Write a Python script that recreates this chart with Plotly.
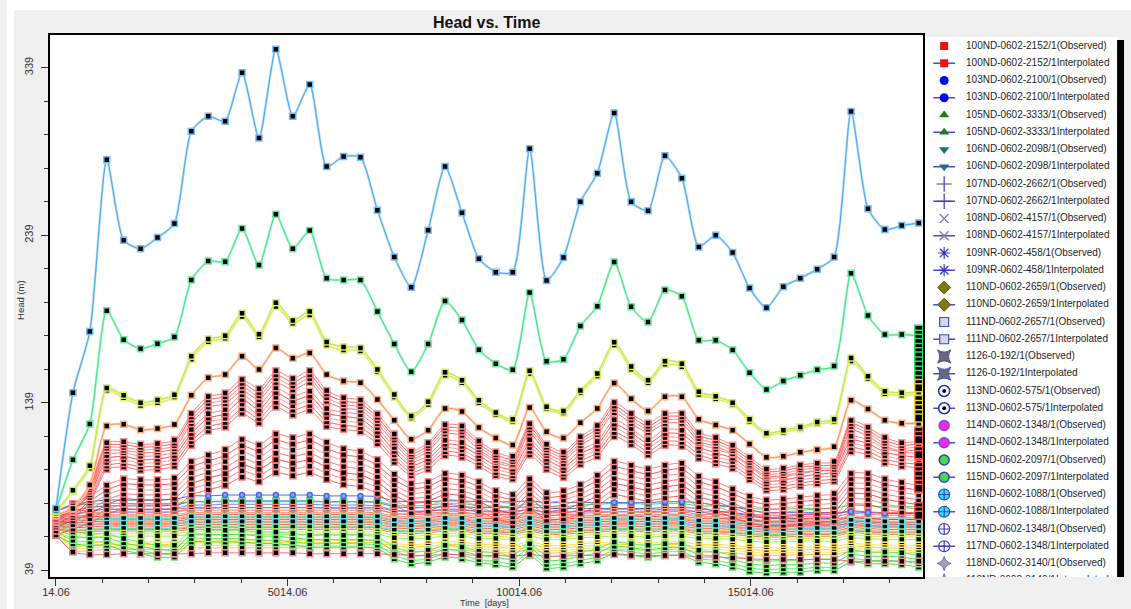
import plotly.graph_objects as go

W, H = 1131, 609

# ---------------------------------------------------------------- data
times = [14.06, 379.31, 744.56, 1109.81, 1475.06, 1840.31, 2205.56, 2570.81, 2936.06, 3301.31,
         3666.56, 4031.81, 4397.06, 4762.31, 5127.56, 5492.81, 5858.06, 6223.31, 6588.56, 6953.81,
         7319.06, 7684.31, 8049.56, 8414.81, 8780.06, 9145.31, 9510.56, 9875.81, 10241.06, 10606.31,
         10971.56, 11336.81, 11702.06, 12067.31, 12432.56, 12797.81, 13163.06, 13528.31, 13893.56, 14258.81,
         14624.06, 14989.31, 15354.56, 15719.81, 16085.06, 16450.31, 16815.56, 17180.81, 17546.06, 17911.31,
         18276.56, 18641.81]

x_tick_vals = [14.06, 5014.06, 10014.06, 15014.06]
x_tick_text = ["14.06", "5014.06", "10014.06", "15014.06"]
y_tick_vals = [39, 139, 239, 339]
y_tick_text = ["39", "139", "239", "339"]

head_blue = [76, 145, 181.6, 284, 236, 231, 237.6, 246, 301, 310, 307, 336, 297, 350, 310, 329,
             280, 286, 285.5, 254, 226, 208, 242, 280, 252.5, 225, 217, 217, 290.6, 212, 225.8, 259,
             276, 312, 259, 253.7, 286.5, 273, 232, 239, 228.7, 207.5, 195.7, 208.3, 213.3, 218.8,
             226, 312.8, 254.8, 242.4, 244.8, 246.3]
head_green = [75, 105, 126.4, 194, 176.7, 171.3, 174.3, 178.3, 212.3, 223.6, 223.2, 243, 221.2, 251.5,
              231, 241.8, 213.3, 212.3, 212.3, 193.5, 174.1, 157.5, 174.1, 199.8, 188.4, 170.7, 162.3,
              158.7, 204.8, 163.8, 165, 184.8, 196.7, 223, 196.3, 187.2, 206.4, 202.6, 176.3, 176.3,
              170.6, 157, 147, 152, 155.5, 158.7, 161, 216.3, 191.1, 179.8, 179.8, 179]
head_yg = [74, 86.9, 101.5, 147.8, 143.5, 139.1, 140.7, 143.9, 166.8, 177.1, 179, 192.5, 180, 198.8,
           188.1, 193.5, 175.3, 172.4, 171.7, 158.9, 144, 131.2, 139.7, 157.3, 152.5, 140.5, 133.2,
           129.2, 158.2, 136.7, 134.1, 146.4, 156.5, 175.1, 160.7, 152.5, 163.8, 162.4, 145.6, 143,
           139.1, 129.2, 120.9, 122.7, 124.6, 127.6, 129.2, 165.8, 154.9, 146, 145, 145.4]
head_yg2 = [73, 86, 100, 146.5, 142, 137.5, 139, 142.5, 165, 175.5, 177.5, 190.5, 178.5, 196.5, 186.5,
            191.5, 173.5, 170.5, 170, 157.5, 142.5, 130, 138, 155.5, 151, 139, 132, 128, 156.5, 135.5,
            133, 145, 155, 173.5, 159, 151, 162, 160.5, 144, 141.5, 138, 128, 120, 121.5, 123.5, 126.5,
            128, 164, 153.5, 144.5, 143.5, 144]
head_orange = [72, 76, 90, 125.2, 126.2, 122.9, 123.7, 126.1, 143.5, 154, 155.9, 166.8, 158.9, 171.8,
               165.6, 168.8, 155.9, 152, 151, 141, 128.6, 117.3, 122.7, 135.7, 133.8, 124.3, 118, 113.8,
               136.2, 121.7, 118, 127.2, 135.7, 150.8, 141.5, 134.1, 142.7, 142.7, 129.2, 125.8, 122.7,
               114.4, 106.5, 107.1, 109.5, 111, 112.8, 140.5, 135.3, 128.6, 126.8, 126.8]

# red well bundles: bundle centre line and relative spread of its members
red_upper = [70, 76, 88, 113, 113.5, 112, 112.5, 114.5, 130, 140, 142, 150, 144.5, 155, 150.5, 155,
             143.5, 139.3, 138, 129.8, 118, 108, 113, 123.5, 122.8, 114, 107.5, 105, 124, 112, 107.5,
             116.5, 123, 136.5, 130, 124.5, 130, 130, 119, 116, 111.5, 104.5, 97.6, 98, 100, 101, 102,
             126, 122, 116, 113, 114]
red_mid = [68, 74, 83, 104, 105.5, 103.5, 104, 106, 119, 128, 130.5, 139, 133, 143, 138, 141, 131, 129,
           127.5, 120, 108.5, 100, 104, 112.7, 111.5, 106, 100, 98, 113, 104, 99, 107, 112, 124.5, 119.5,
           113, 119, 118.5, 111, 107.5, 104.5, 97.5, 91, 91.5, 93.5, 95, 96.5, 115, 113, 108, 106, 105]
red_low = [68, 72, 76, 82, 85.5, 85, 85, 86, 95, 98.5, 101.5, 107, 104, 110, 108, 110, 105.5, 102,
           100.5, 96, 88, 83, 84, 88.5, 87.5, 84, 79, 77, 85.5, 78, 79, 82.5, 87.5, 95, 93, 91, 93, 94,
           87, 84, 80, 76, 74, 74.5, 75.5, 76.5, 77.5, 88.5, 88.5, 85.5, 83.5, 82]
red_upper_spread = [0.975, 0.99, 1.005, 1.02]
red_mid_spread = [0.955, 0.975, 0.995, 1.015, 1.035]
red_low_spread = [0.885, 0.92, 0.955, 0.99, 1.025, 1.06, 1.095]

# lower band of wells
band_blue_star = [74, 78, 80, 81, 81, 81, 81, 81.5, 83.5, 83.5, 84, 84, 84, 84, 84, 84, 83.5, 83.5,
                  83.5, 83, 80.5, 80, 80, 80.5, 80.5, 80, 80, 80, 80.5, 79.5, 79.5, 79.5, 79.5, 79.5,
                  79.5, 79.5, 80, 80, 79.5, 78, 77, 75, 73.5, 73.5, 73.5, 73.5, 73.5, 74, 73.5, 73, 73, 73]
band_blue_offsets = [-3.5, -5.5, -7.5]
band_shift = [0, -1, -0.5, 0, 0, 0, 0, 0, 1, 1, 1, 1, 1, 1, 1, 1, 1, 1, 1, 1, -1, -1.5, -1, 0, 0,
              -1.5, -1.5, -2, 0, -2, -2, -1, -0.5, 0, 0, -0.5, 0, 0, -1.5, -1.5, -2, -3, -3.5, -3.5,
              -3, -3, -3, -1, -1.5, -2, -2, -2]
band_levels = [79, 75.5, 74, 72.5, 71.5, 70.5, 69.5, 68.5, 67.5, 66.5, 65.5, 64.5, 63.5, 62.5,
               70, 67, 64, 61, 59.5, 56, 54.5, 53, 51.5]
band_starts = [75, 72, 71, 70, 69, 69, 68, 68, 67, 66, 66, 65, 64, 64,
               70, 68, 66, 63, 62, 62, 61, 60, 60]
band_colors = ["#22dd33", "#ff4444", "#ff6644", "#ff8855", "#ff3333", "#ffaa44", "#ff5566",
               "#ee3333", "#ff9933", "#ff7777", "#ff4422", "#ffbb55", "#ee5555", "#ff6633",
               "#33ddcc", "#22ccee", "#33ee99", "#ccee33", "#99ee33", "#ffdd33", "#ffcc11",
               "#ffe055", "#ffbb22"]
green_low = [62, 57, 56, 56, 53, 51, 49, 49, 58, 58, 58, 58, 57, 57, 56, 55, 55, 55, 55, 54, 48, 45,
             46, 49, 48, 45.5, 44.5, 43, 50, 42.5, 43, 45, 47, 51, 50, 49, 50, 50, 46, 45, 43, 40.5,
             39.5, 40, 40, 41, 41, 46, 45, 45, 44.5, 43]
green_low_offsets = [-2, 0, 2.5, 5]
bottom_red = [60, 50, 48.5, 48.5, 49, 49, 49, 49, 49, 49.5, 49.5, 49.5, 49.5, 49.5, 49.5, 49, 49, 49,
              49, 49, 48.5, 48, 48, 48.5, 48.5, 48, 48, 47.5, 48.5, 47.5, 47.5, 48, 48, 48.5, 48, 48,
              48, 48, 47, 47, 46.5, 46, 45.5, 45.5, 45.5, 45.5, 45.5, 44.5, 44.5, 44.5, 44.5, 44.5]

# observations stacked at the last survey date
final_stack_green = [183, 180, 177.5, 175, 172, 169.5, 167, 164, 161.5, 158.5, 156, 153]
final_stack_yellow = [150.5, 148, 141, 138, 135.5, 132.5, 130]
final_stack_red = [122, 119.5, 117, 110.5, 108, 101, 98.5, 96, 93, 90.5, 88, 77, 74.5, 72]

legend_wells = ["100ND-0602-2152/1", "103ND-0602-2100/1", "105ND-0602-3333/1", "106ND-0602-2098/1",
                "107ND-0602-2662/1", "108ND-0602-4157/1", "109NR-0602-458/1", "110ND-0602-2659/1",
                "111ND-0602-2657/1", "1126-0-192/1", "113ND-0602-575/1", "114ND-0602-1348/1",
                "115ND-0602-2097/1", "116ND-0602-1088/1", "117ND-0602-1348/1", "118ND-0602-3140/1"]

# ---------------------------------------------------------------- helpers
FONT = "Liberation Sans, Arial, sans-serif"


def tint(hex_color, f):
    h = hex_color.lstrip("#")
    r, g, b = (int(h[i:i + 2], 16) for i in (0, 2, 4))
    r, g, b = (int(c + (255 - c) * f) for c in (r, g, b))
    return f"#{r:02x}{g:02x}{b:02x}"


fig = go.Figure()
SMOOTH = 0.6


def add_well(values, color, halo=False, symbol="square", fill="black", size=6, border=None, width=0.9):
    if halo:
        fig.add_trace(go.Scatter(
            x=times, y=values, mode="lines", hoverinfo="skip",
            line=dict(color=tint(color, 0.6), width=2.4, shape="spline", smoothing=SMOOTH)))
    fig.add_trace(go.Scatter(
        x=times, y=values, mode="lines+markers", hoverinfo="skip",
        line=dict(color=color, width=width, shape="spline", smoothing=SMOOTH),
        marker=dict(symbol=symbol, size=size, color=fill,
                    line=dict(color=border or tint(color, 0.3), width=1.5))))


# ---------------------------------------------------------------- lower band
for off, col in zip(band_blue_offsets, ["#3355dd", "#5577ee", "#8899ff"]):
    add_well([v + off for v in band_blue_star], col)
for lvl, start, col in zip(band_levels, band_starts, band_colors):
    add_well([start] + [lvl + s for s in band_shift[1:]], col)
for off, col in zip(green_low_offsets, ["#22dd22", "#44ee44", "#33e633", "#55ee55"]):
    add_well([v + off for v in green_low], col)
add_well(bottom_red, "#e86070")
add_well(band_blue_star, "#3355ee", symbol="circle", fill="#8fa6ff", size=5, border="#4466ee")

# ---------------------------------------------------------------- red bundles
for f, col in zip(red_low_spread, ["#ff3a3a", "#ff6666", "#ee2222", "#ff5050", "#ff7a7a", "#ff3030", "#ff5a5a"]):
    add_well([round(v * f, 2) for v in red_low], col, width=0.8)
for f, col in zip(red_mid_spread, ["#ff5050", "#ff3a3a", "#ff8080", "#ff2222", "#ff6666"]):
    add_well([round(v * f, 2) for v in red_mid], col, width=0.8)
for f, col in zip(red_upper_spread, ["#ff4d4d", "#ff7070", "#ff3030", "#ff6060"]):
    add_well([round(v * f, 2) for v in red_upper], col, width=0.8)

# ---------------------------------------------------------------- upper wells
add_well(head_orange, "#ff8a45", halo=True)
add_well(head_yg2, "#dde43a", halo=True)
add_well(head_yg, "#b6e62a", halo=True)
add_well(head_green, "#2fe27a", halo=True)
add_well(head_blue, "#3aa2ee", halo=True)

# ---------------------------------------------------------------- final-date observations
for vals, col in [(final_stack_green, "#33dd66"), (final_stack_yellow, "#e8d030"),
                  (final_stack_red, "#ff5a4a")]:
    fig.add_trace(go.Scatter(
        x=[times[-1]] * len(vals), y=vals, mode="markers", hoverinfo="skip",
        marker=dict(symbol="square", size=8, color="black", line=dict(color=col, width=1.5))))

# ---------------------------------------------------------------- legend panel (own axes)
legend_symbols = [
    dict(symbol="square", size=8, color="#ee1111", line=dict(color="#ee1111", width=0)),
    dict(symbol="circle", size=9, color="#0a0aee", line=dict(color="#0a0aee", width=0)),
    dict(symbol="triangle-up", size=9, color="#1e7a1e", line=dict(color="#1e7a1e", width=0)),
    dict(symbol="triangle-down", size=9, color="#1d6f78", line=dict(color="#1d6f78", width=0)),
    dict(symbol="cross-thin", size=11, color="#3a3ab0", line=dict(color="#3a3ab0", width=1.2)),
    dict(symbol="x-thin", size=9, color="#7a7ab8", line=dict(color="#7a7ab8", width=1.2)),
    dict(symbol="asterisk", size=10, color="#3a3ac0", line=dict(color="#3a3ac0", width=1.2)),
    dict(symbol="diamond", size=10, color="#7d7a12", line=dict(color="#5c5a10", width=1)),
    dict(symbol="square", size=9, color="#d6d6ea", line=dict(color="#4848c0", width=1.2)),
    dict(symbol="star-square", size=12, color="#6a6a72", line=dict(color="#4a4ac0", width=1)),
    dict(symbol="circle", size=11, color="white", line=dict(color="#2a2ab0", width=1.5)),
    dict(symbol="circle", size=10, color="#ff22ee", line=dict(color="#5a5ad0", width=1.5)),
    dict(symbol="circle", size=10, color="#44dd44", line=dict(color="#3a3ac0", width=1.5)),
    dict(symbol="circle-cross", size=11, color="#22eeff", line=dict(color="#3a3ac0", width=1.2)),
    dict(symbol="circle-cross-open", size=11, color="#3a3ac0", line=dict(color="#3a3ac0", width=1.2)),
    dict(symbol="star-diamond", size=10, color="#a8a0a8", line=dict(color="#6a6ac0", width=1)),
]

ROW0, ROW_STEP, SYM_X = 46, 17.25, 943
labels, rows = [], []
for i, (well, sym) in enumerate(zip(legend_wells, legend_symbols)):
    y_obs = ROW0 + ROW_STEP * (2 * i)
    y_int = ROW0 + ROW_STEP * (2 * i + 1)
    labels += [f"{well}(Observed)", f"{well}Interpolated"]
    rows += [y_obs, y_int]
    fig.add_trace(go.Scatter(x=[932, 954], y=[y_int, y_int], mode="lines", xaxis="x2", yaxis="y2",
                             line=dict(color="#4a4ad2", width=1.3), hoverinfo="skip"))
    fig.add_trace(go.Scatter(x=[SYM_X, SYM_X], y=[y_obs, y_int], mode="markers", xaxis="x2",
                             yaxis="y2", marker=sym, hoverinfo="skip"))
    if well.startswith("113"):
        fig.add_trace(go.Scatter(x=[SYM_X, SYM_X], y=[y_obs, y_int], mode="markers", xaxis="x2",
                                 yaxis="y2", marker=dict(symbol="circle", size=4, color="black"),
                                 hoverinfo="skip"))

fig.add_trace(go.Scatter(x=[965] * len(labels), y=rows, text=labels, mode="text",
                         textposition="middle right", xaxis="x2", yaxis="y2", cliponaxis=True,
                         textfont=dict(family=FONT, size=10, color="#1e1e1e"), hoverinfo="skip"))

# ---------------------------------------------------------------- layout
axis_common = dict(showline=True, mirror=True, linecolor="black", linewidth=2, showgrid=False,
                   zeroline=False, ticks="outside", tickcolor="#333333", tickwidth=1, ticklen=7,
                   tickfont=dict(family=FONT, size=11, color="#333333"))

fig.update_layout(
    width=W, height=H, margin=dict(l=0, r=0, t=0, b=0),
    paper_bgcolor="#f0f0f0", plot_bgcolor="white", showlegend=False,
    xaxis=dict(domain=[43 / W, 922 / W], range=[-121, 18741], tickmode="array",
               tickvals=x_tick_vals, ticktext=x_tick_text, ticklabelstandoff=-3,
               minor=dict(tickmode="linear", tick0=14.06, dtick=1000, ticks="outside", ticklen=4,
                          tickcolor="#333333"),
               **axis_common),
    yaxis=dict(domain=[1 - 576.5 / H, 1 - 35 / H], range=[35.4, 358.5], tickmode="array",
               tickvals=y_tick_vals, ticktext=y_tick_text, tickangle=-90, ticklabelstandoff=3,
               minor=dict(tickmode="linear", tick0=39, dtick=20, ticks="outside", ticklen=4,
                          tickcolor="#333333"),
               **axis_common),
    xaxis2=dict(domain=[923 / W, 1117 / W], range=[923, 1117], visible=False, anchor="y2"),
    yaxis2=dict(domain=[1 - 577 / H, 1 - 37 / H], range=[577, 37], visible=False, anchor="x2"),
    shapes=[
        dict(type="rect", xref="paper", yref="paper", x0=0, x1=1, y0=1 - 10 / H, y1=1,
             fillcolor="white", line=dict(width=0), layer="below"),
        dict(type="rect", xref="paper", yref="paper", x0=0, x1=7 / W, y0=0, y1=1,
             fillcolor="white", line=dict(width=0), layer="below"),
        dict(type="rect", xref="paper", yref="paper", x0=1117 / W, x1=1124 / W,
             y0=1 - 577 / H, y1=1 - 40 / H, fillcolor="black", line=dict(width=0)),
    ],
    annotations=[
        dict(text="<b>Head vs. Time</b>", xref="paper", yref="paper", x=482 / W, y=1 - 23 / H,
             showarrow=False, font=dict(family=FONT, size=16, color="#111111"),
             xanchor="center", yanchor="middle"),
        dict(text="Head (m)", xref="paper", yref="paper", x=13 / W, y=1 - 300 / H, textangle=-90,
             showarrow=False, font=dict(family=FONT, size=9.5, color="#333333"),
             xanchor="center", yanchor="middle"),
        dict(text="Time  [days]", xref="paper", yref="paper", x=480 / W, y=0,
             showarrow=False, font=dict(family=FONT, size=9, color="#333333"),
             xanchor="center", yanchor="bottom", borderpad=0),
    ],
)

fig.write_html("out.html")
